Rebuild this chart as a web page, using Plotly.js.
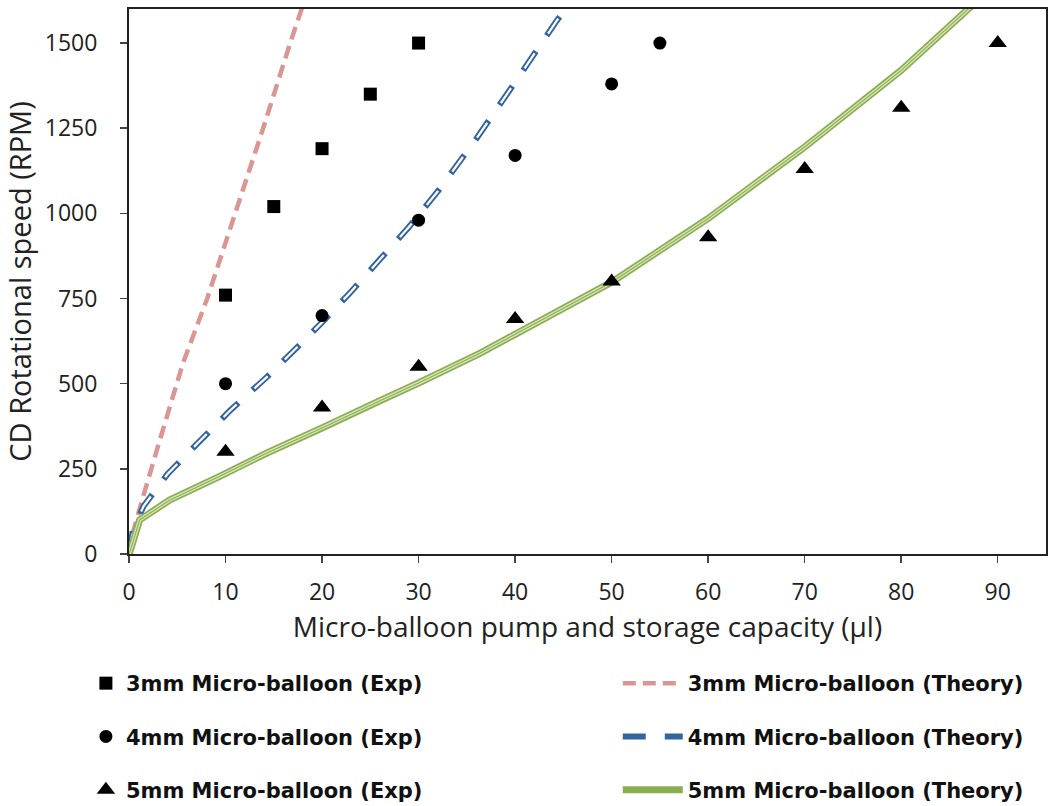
<!DOCTYPE html>
<html>
<head>
<meta charset="utf-8">
<script src="https://cdn.plot.ly/plotly-3.0.1.min.js"></script>
<style>html,body{margin:0;padding:0;background:#fff;}#chart{width:1050px;height:806px;}</style>
</head>
<body>
<div id="chart"></div>
<script>
// Experimental data
const exp3X = [10, 15, 20, 25, 30];
const exp3Y = [760, 1020, 1190, 1350, 1500];
const exp4X = [10, 20, 30, 40, 50, 55];
const exp4Y = [500, 700, 980, 1170, 1380, 1500];
const exp5X = [10, 20, 30, 40, 50, 60, 70, 80, 90];
const exp5Y = [300, 430, 550, 690, 800, 930, 1130, 1310, 1500];

// Theory curves
const th3X = [0, 0.4, 1.45, 3.2, 5.6, 8.1, 11.0, 13.9, 16.7, 18.0, 18.6];
const th3Y = [0, 62, 167, 335, 561, 750, 1000, 1250, 1500, 1610, 1660];
const th4X = [0, 0.4, 1.5, 4, 7, 10.5, 14.3, 17, 20, 23, 26, 29, 32, 36, 40, 44.3, 45.2];
const th4Y = [0, 70, 140, 235, 322, 422, 520, 595, 680, 770, 865, 960, 1065, 1220, 1385, 1565, 1600];
const th5X = [0, 0.3, 1.1, 4.2, 9.4, 14.4, 20, 26, 30, 36.4, 40, 50, 60, 70, 80, 86.9, 87.6];
const th5Y = [0, 25, 100, 158, 228, 298, 370, 450, 502, 590, 645, 798, 985, 1195, 1420, 1599, 1615];

const names = {
  e3: '3mm Micro-balloon (Exp)', e4: '4mm Micro-balloon (Exp)', e5: '5mm Micro-balloon (Exp)',
  t3: '3mm Micro-balloon (Theory)', t4: '4mm Micro-balloon (Theory)', t5: '5mm Micro-balloon (Theory)'
};
const xTicks = [0, 10, 20, 30, 40, 50, 60, 70, 80, 90];
const yTicks = [0, 250, 500, 750, 1000, 1250, 1500];

const pink = '#d99694', blue = '#33649f', green = '#8aad4e', greenLight = '#d8e6bd';

const traces = [
  {x: th3X, y: th3Y, mode: 'lines', name: names.t3, legend: 'legend2', legendgroup: 't3',
   line: {color: pink, width: 4.5, dash: '13px,7px', simplify: false}},
  {x: th4X, y: th4Y, mode: 'lines', name: names.t4, legend: 'legend2', legendgroup: 't4',
   line: {color: blue, width: 6, dash: '23px,19px', simplify: false}},
  {x: th4X, y: th4Y, mode: 'lines', showlegend: false, hoverinfo: 'skip', legendgroup: 't4',
   line: {color: '#ffffff', width: 2.2, dash: '0px,2.5px,18px,21.5px', simplify: false}},
  {x: th5X, y: th5Y, mode: 'lines', name: names.t5, legend: 'legend2', legendgroup: 't5',
   line: {color: green, width: 7, simplify: false}},
  {x: th5X, y: th5Y, mode: 'lines', showlegend: false, hoverinfo: 'skip', legendgroup: 't5',
   line: {color: greenLight, width: 3.6, simplify: false}},
  {x: th5X, y: th5Y, mode: 'lines', showlegend: false, hoverinfo: 'skip', legendgroup: 't5',
   line: {color: green, width: 1.1, simplify: false}},
  {x: exp3X, y: exp3Y, mode: 'markers', name: names.e3, legendgroup: 'e3',
   marker: {symbol: 'square', size: 13, color: '#000'}},
  {x: exp4X, y: exp4Y, mode: 'markers', name: names.e4, legendgroup: 'e4',
   marker: {symbol: 'circle', size: 13, color: '#000'}},
  {x: exp5X, y: exp5Y, mode: 'markers', name: names.e5, legendgroup: 'e5',
   marker: {symbol: 'triangle-up', size: 16, color: '#000'}}
];

const legFont = {family: 'DejaVu Sans, Noto Sans, sans-serif', size: 21, color: '#111', weight: 'bold'};
const axFont = 'Open Sans, Lato, sans-serif';

const layout = {
  width: 1050, height: 806,
  margin: {l: 129, r: 4, t: 9, b: 252, autoexpand: false},
  paper_bgcolor: '#fff', plot_bgcolor: '#fff',
  font: {family: axFont, color: '#222'},
  showlegend: true,
  xaxis: {
    range: [0, 95], tickvals: xTicks, ticktext: xTicks.map(String),
    showgrid: false, zeroline: false, showline: true, mirror: true,
    linecolor: '#222', linewidth: 2, ticks: 'outside', ticklen: 7, tickwidth: 1.5, tickcolor: '#444',
    ticklabelstandoff: 9,
    tickfont: {family: axFont, size: 23, color: '#222'},
    title: {text: 'Micro-balloon pump and storage capacity (µl)', font: {family: axFont, size: 28, color: '#222'}, standoff: 0}
  },
  yaxis: {
    range: [0, 1600], tickvals: yTicks, ticktext: yTicks.map(String),
    showgrid: false, zeroline: false, showline: true, mirror: true,
    linecolor: '#222', linewidth: 2, ticks: 'outside', ticklen: 7, tickwidth: 1.5, tickcolor: '#444',
    ticklabelstandoff: 18,
    tickfont: {family: axFont, size: 23, color: '#222'},
    title: {text: 'CD Rotational speed (RPM)', font: {family: axFont, size: 29, color: '#222'}, standoff: 6}
  },
  legend: {
    x: -0.047, xanchor: 'left', y: -0.2, yanchor: 'top',
    font: legFont, bgcolor: 'rgba(0,0,0,0)', traceorder: 'grouped', tracegroupgap: 23,
    orientation: 'v'
  },
  legend2: {
    x: 0.533, xanchor: 'left', y: -0.2, yanchor: 'top', itemwidth: 60,
    font: legFont, bgcolor: 'rgba(0,0,0,0)', traceorder: 'grouped', tracegroupgap: 23,
    orientation: 'v'
  }
};

Plotly.newPlot('chart', traces, layout, {displayModeBar: false, staticPlot: true});
</script>
</body>
</html>
